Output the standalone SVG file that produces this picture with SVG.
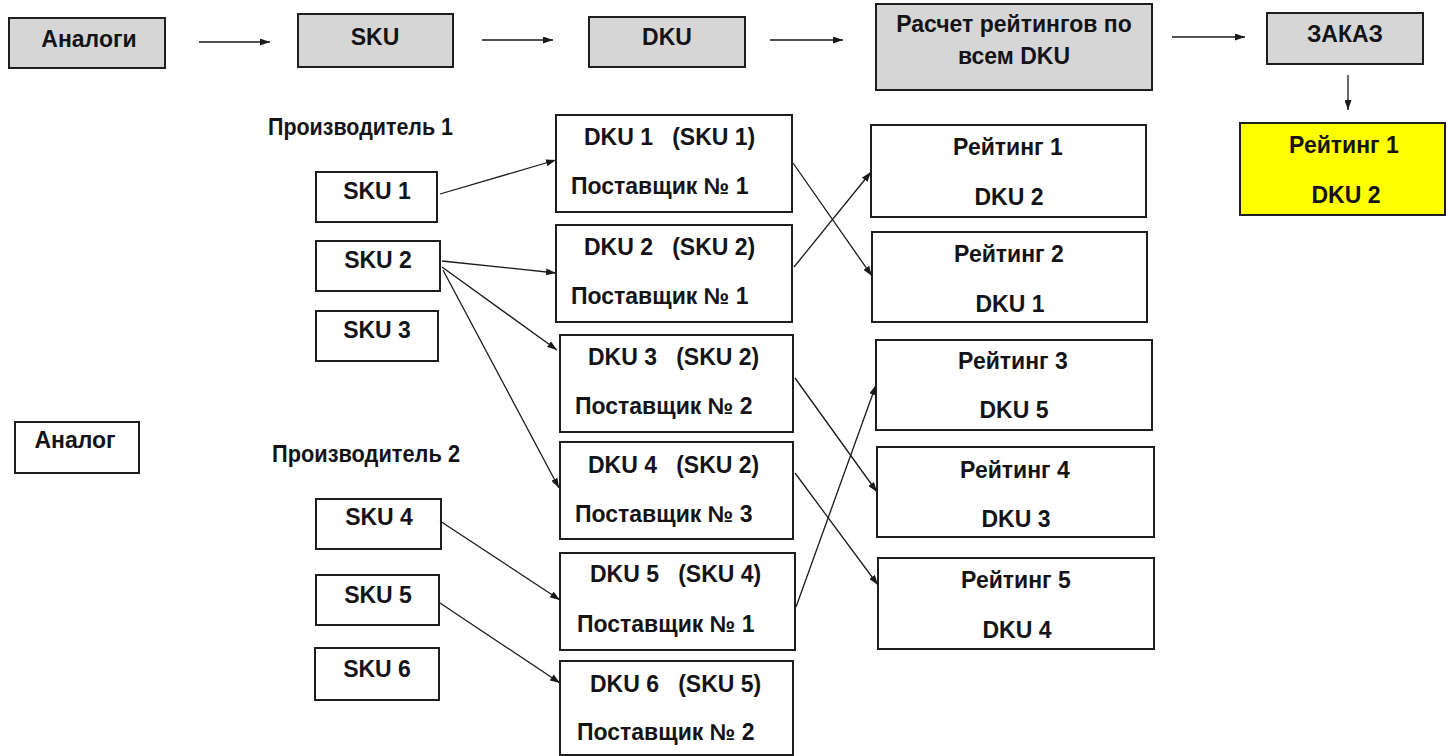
<svg xmlns="http://www.w3.org/2000/svg" width="1447" height="756" viewBox="0 0 1447 756">
<defs>
<marker id="ah" viewBox="0 0 10 7" refX="10" refY="3.5" markerWidth="10" markerHeight="7" markerUnits="userSpaceOnUse" orient="auto">
<path d="M0,0 L10,3.5 L0,7 z" fill="#1a1a1a"/>
</marker>
</defs>
<style>
.box{fill:#ffffff;stroke:#1e1e1e;stroke-width:2}
.gray{fill:#d6d6d6;stroke:#1e1e1e;stroke-width:2}
.yel{fill:#ffff00;stroke:#1e1e1e;stroke-width:2}
text{font-family:"Liberation Sans",Arial,sans-serif;font-weight:bold;font-size:23px;fill:#141418}
.c{text-anchor:middle}
.conn line{stroke:#1a1a1a;stroke-width:1.3;marker-end:url(#ah)}
</style>
<rect width="1447" height="756" fill="#ffffff"/>

<g id="analogi"><rect class="gray" x="9" y="18" width="156" height="50"/><text class="c" x="89" y="47">Аналоги</text></g>
<g id="sku-top"><rect class="gray" x="298" y="14" width="155" height="53"/><text class="c" x="375" y="45">SKU</text></g>
<g id="dku-top"><rect class="gray" x="589" y="17" width="156" height="50"/><text class="c" x="667" y="45">DKU</text></g>
<g id="raschet"><rect class="gray" x="876" y="4" width="276" height="86"/><text class="c" x="1014" y="32">Расчет рейтингов по</text><text class="c" x="1014" y="64">всем DKU</text></g>
<g id="zakaz"><rect class="gray" x="1267" y="13" width="156" height="51"/><text class="c" x="1345" y="42">ЗАКАЗ</text></g>
<g id="result"><rect class="yel" x="1240" y="123" width="205" height="92"/><text class="c" x="1344" y="153">Рейтинг 1</text><text class="c" x="1346" y="203">DKU 2</text></g>

<g id="proizv1"><text x="268" y="135" textLength="185" lengthAdjust="spacingAndGlyphs">Производитель 1</text></g>
<g id="proizv2"><text x="272" y="462" textLength="188" lengthAdjust="spacingAndGlyphs">Производитель 2</text></g>
<g id="analog"><rect class="box" x="15" y="422" width="124" height="51"/><text class="c" x="75" y="448">Аналог</text></g>

<g id="sku1"><rect class="box" x="316" y="172" width="121" height="50"/><text class="c" x="377" y="199">SKU 1</text></g>
<g id="sku2"><rect class="box" x="316" y="241" width="124" height="50"/><text class="c" x="378" y="268">SKU 2</text></g>
<g id="sku3"><rect class="box" x="316" y="311" width="122" height="50"/><text class="c" x="377" y="338">SKU 3</text></g>
<g id="sku4"><rect class="box" x="316" y="499" width="125" height="50"/><text class="c" x="379" y="525">SKU 4</text></g>
<g id="sku5"><rect class="box" x="316" y="575" width="123" height="50"/><text class="c" x="378" y="603">SKU 5</text></g>
<g id="sku6"><rect class="box" x="315" y="648" width="124" height="52"/><text class="c" x="377" y="677">SKU 6</text></g>

<g id="dku1"><rect class="box" x="556" y="115" width="236" height="97"/><text x="584" y="145" xml:space="preserve">DKU 1   (SKU 1)</text><text x="571" y="194">Поставщик № 1</text></g>
<g id="dku2"><rect class="box" x="556" y="225" width="236" height="97"/><text x="584" y="255" xml:space="preserve">DKU 2   (SKU 2)</text><text x="571" y="304">Поставщик № 1</text></g>
<g id="dku3"><rect class="box" x="560" y="335" width="233" height="97"/><text x="588" y="365" xml:space="preserve">DKU 3   (SKU 2)</text><text x="575" y="414">Поставщик № 2</text></g>
<g id="dku4"><rect class="box" x="560" y="442" width="233" height="97"/><text x="588" y="473" xml:space="preserve">DKU 4   (SKU 2)</text><text x="575" y="522">Поставщик № 3</text></g>
<g id="dku5"><rect class="box" x="560" y="553" width="235" height="97"/><text x="590" y="582" xml:space="preserve">DKU 5   (SKU 4)</text><text x="577" y="632">Поставщик № 1</text></g>
<g id="dku6"><rect class="box" x="560" y="661" width="233" height="94"/><text x="590" y="692" xml:space="preserve">DKU 6   (SKU 5)</text><text x="577" y="740">Поставщик № 2</text></g>

<g id="rating1"><rect class="box" x="871" y="125" width="275" height="92"/><text class="c" x="1008" y="155">Рейтинг 1</text><text class="c" x="1009" y="205">DKU 2</text></g>
<g id="rating2"><rect class="box" x="872" y="232" width="275" height="90"/><text class="c" x="1009" y="262">Рейтинг 2</text><text class="c" x="1010" y="312">DKU 1</text></g>
<g id="rating3"><rect class="box" x="876" y="340" width="276" height="90"/><text class="c" x="1013" y="369">Рейтинг 3</text><text class="c" x="1014" y="418">DKU 5</text></g>
<g id="rating4"><rect class="box" x="877" y="447" width="277" height="90"/><text class="c" x="1015" y="478">Рейтинг 4</text><text class="c" x="1016" y="527">DKU 3</text></g>
<g id="rating5"><rect class="box" x="878" y="558" width="276" height="91"/><text class="c" x="1016" y="588">Рейтинг 5</text><text class="c" x="1017" y="638">DKU 4</text></g>

<g id="connectors" class="conn">
<line x1="199" y1="42" x2="270" y2="42"/>
<line x1="482" y1="40" x2="553" y2="40"/>
<line x1="770" y1="40" x2="843" y2="40"/>
<line x1="1172" y1="37" x2="1245" y2="37"/>
<line x1="1348" y1="75" x2="1348" y2="110"/>
<line x1="440" y1="194" x2="556" y2="160"/>
<line x1="442" y1="261" x2="556" y2="273"/>
<line x1="442" y1="267" x2="557" y2="350"/>
<line x1="443" y1="270" x2="559" y2="488"/>
<line x1="440" y1="521" x2="560" y2="600"/>
<line x1="440" y1="603" x2="560" y2="683"/>
<line x1="793" y1="163" x2="872" y2="276"/>
<line x1="794" y1="267" x2="871" y2="172"/>
<line x1="795" y1="378" x2="877" y2="492"/>
<line x1="795" y1="473" x2="878" y2="585"/>
<line x1="796" y1="607" x2="876" y2="385"/>
</g>
</svg>
